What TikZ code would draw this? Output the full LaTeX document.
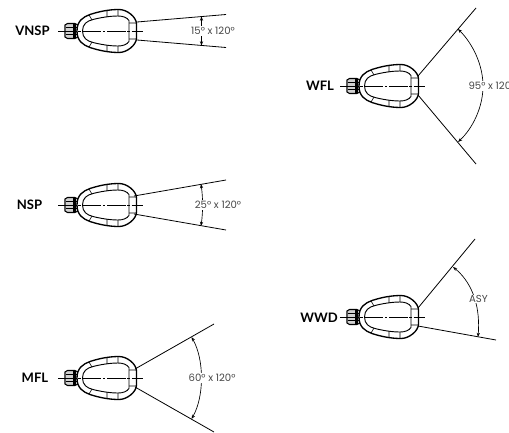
\documentclass[tikz,border=0pt]{standalone}
\usepackage{fontspec}
\setmainfont{Poppins}
\newfontfamily\labelfont[BoldFont=Lato Bold]{Lato}
\usetikzlibrary{arrows.meta}
\tikzset{
  x=0.75pt,y=-0.75pt,
  outline/.style={line width=1pt,black},
  thinline/.style={line width=0.45pt,black},
  axisline/.style={line width=0.45pt,black,dash pattern=on 14pt off 1.2pt on 2pt off 1.2pt},
  beam/.style={line width=0.6pt,black},
  dim/.style={line width=0.5pt,black,{Stealth[length=3.2pt,width=2.4pt]}-{Stealth[length=3.2pt,width=2.4pt]}},
  tag/.style={font=\labelfont\bfseries\fontsize{9.8}{11}\selectfont,black,inner sep=0pt},
  val/.style={font=\fontsize{7.6}{9}\selectfont,black!72,inner sep=0.6pt,fill=white},
  lamp/.pic={
    \draw[axisline] (-19,0) -- (66,0);
    % cable gland
    \fill[black!18] (-11,-7) rectangle (1,7);
    \draw[line width=0.8pt] (-9.5,-7.5) -- (-2,-7.5) -- (1,-6) -- (1,6) -- (-2,7.5) -- (-9.5,7.5) -- (-12,6) -- (-12,-6) -- cycle;
    \draw[thinline] (-11.5,-3.5) -- (1,-3.5) (-11.5,3.5) -- (1,3.5) (-4,-7.5) -- (-4,7.5);
    \draw[line width=0.9pt] (-2,-7) -- (-2,7);
    % body
    \draw[outline,fill=white] (0,0) .. controls (0,-10) and (6,-14) .. (13,-16.5)
      .. controls (22,-19.5) and (32,-21.5) .. (42,-21.5)
      .. controls (50,-21.5) and (59.5,-14) .. (59.5,-7)
      -- (59.5,7)
      .. controls (59.5,14) and (50,21.5) .. (42,21.5)
      .. controls (32,21.5) and (22,19.5) .. (13,16.5)
      .. controls (6,14) and (0,10) .. (0,0) -- cycle;
    \draw[line width=0.7pt] (5.5,0) .. controls (5.5,-7) and (10,-10) .. (16,-11.5)
      .. controls (24,-13.5) and (33,-15) .. (41,-15)
      .. controls (46,-15) and (50,-13.5) .. (52,-10.5)
      -- (52,10.5)
      .. controls (50,13.5) and (46,15) .. (41,15)
      .. controls (33,15) and (24,13.5) .. (16,11.5)
      .. controls (10,10) and (5.5,7) .. (5.5,0) -- cycle;
    \draw[axisline] (-19,0) -- (66,0);
    \draw[thinline] (30,-20) -- (30,-14) (41,-21.5) -- (41,-15) (30,20) -- (30,14) (41,21.5) -- (41,15)
      (12,-16) -- (15,-11) (12,16) -- (15,11)
      (52,-8) -- (59.5,-8) (52,8) -- (59.5,8);
  }
}
\begin{document}
\begin{tikzpicture}
\useasboundingbox (0,0) rectangle (509,432);
\begin{scope}
\clip (0,0) rectangle (509,432);
% lamps
\pic at (77,31) {lamp};
\pic at (77,205) {lamp};
\pic at (77,378) {lamp};
\pic at (359,86) {lamp};
\pic at (359,317) {lamp};
% tags
\node[tag] (tvnsp) at (32.5,31) {VNSP};
\node[tag] (tnsp) at (29.5,205) {NSP};
\node[tag] (tmfl) at (35,378) {MFL};
\node[tag] (twfl) at (320,86) {WFL};
\node[tag] (twwd) at (319,318) {WWD};
% VNSP
\coordinate (a1) at (137,22); \coordinate (a2) at (226,14.5);
\coordinate (a3) at (137,40); \coordinate (a4) at (226,47.5);
\draw[beam] (a1) -- (a2); \draw[beam] (a3) -- (a4);
\coordinate (a5) at (201.5,16.5); \coordinate (a6) at (201.5,45.5);
\draw[dim] (a5) -- (a6);
\node[val] (vvnsp) at (213,31) {15° x 120°};
% NSP
\coordinate (b1) at (134,196); \coordinate (b2) at (226,180);
\coordinate (b3) at (134,214); \coordinate (b4) at (226,230);
\draw[beam] (b1) -- (b2); \draw[beam] (b3) -- (b4);
\coordinate (b5) at (201,184); \coordinate (b6) at (201,226);
\draw[dim] (b5) .. controls (203,198) and (203,212) .. (b6);
\node[val] (vnsp) at (218,205) {25° x 120°};
% MFL
\coordinate (c1) at (135,369); \coordinate (c2) at (214,324);
\coordinate (c3) at (135,387); \coordinate (c4) at (214,432);
\draw[beam] (c1) -- (c2); \draw[beam] (c3) -- (c4);
\coordinate (c5) at (191.5,337); \coordinate (c6) at (191.5,419);
\draw[dim] (c5) .. controls (199,350) and (201.5,365) .. (201.5,378) .. controls (201.5,391) and (199,406) .. (c6);
\node[val] (vmfl) at (212,378) {60° x 120°};
% WFL
\coordinate (d1) at (418,76); \coordinate (d2) at (476,8);
\coordinate (d3) at (418,95); \coordinate (d4) at (476,164);
\draw[beam] (d1) -- (d2); \draw[beam] (d3) -- (d4);
\coordinate (d5) at (458,29); \coordinate (d6) at (458,142);
\draw[dim] (d5) .. controls (472,43) and (483,64) .. (483,86) .. controls (483,108) and (472,129) .. (d6);
\node[val,anchor=west] (vwfl) at (467.5,86) {95° x 120°};
% WWD
\coordinate (e1) at (418,308); \coordinate (e2) at (475,239);
\coordinate (e3) at (418,326); \coordinate (e4) at (496,340);
\draw[beam] (e1) -- (e2); \draw[beam] (e3) -- (e4);
\coordinate (e5) at (453,267); \coordinate (e6) at (478,337);
\draw[dim] (e5) .. controls (468,279) and (481,300) .. (e6);
\node[val] (vwwd) at (478.5,299) {ASY};
\end{scope}
\end{tikzpicture}
\end{document}
